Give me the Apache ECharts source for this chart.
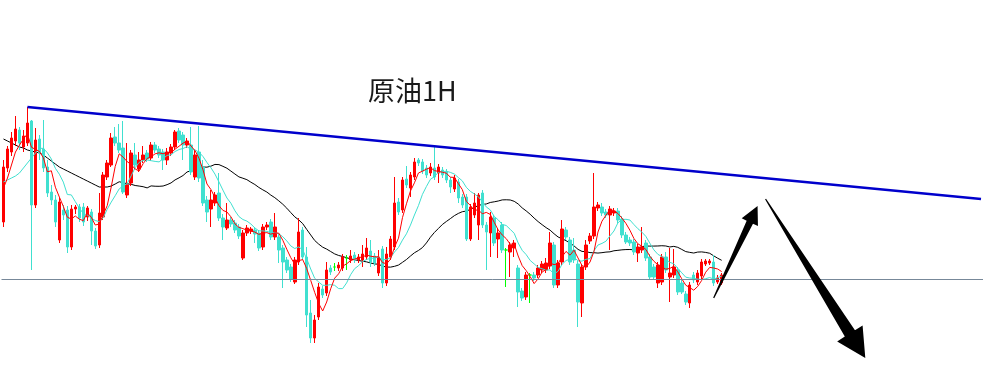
<!DOCTYPE html>
<html>
<head>
<meta charset="utf-8">
<script src="https://cdn.jsdelivr.net/npm/echarts@6/dist/echarts.min.js"></script>
<style>html,body{margin:0;padding:0;background:#fff}#c{width:983px;height:365px}</style>
</head>
<body>
<div id="c"></div>
<script>
// Hourly crude oil candles (price points)
const open = [178,232,248,259,270,253,257,279,195,261, 251,233,208,200,160,190,190,153,191,193, 193,183,188,169,155,183,223,235,263,257, 252,205,217,245,231,240,247,242,255,251, 248,240,247,253,269,265,255,255,223,248, 233,200,191,197,207,182,172,180,177,173, 142,167,169,170,167,153,173,178,163,163, 152,140,133,118,138,170,143,87,62,83, 111,107,132,133,132,132,142,140,145,140, 140,143,149,144,127,151,117,143,153,198, 190,221,212,223,240,238,232,227,232,227, 230,228,220,211,218,203,203,161,185,175, 207,175,167,182,161,175,150,148,152,132, 109,103,125,125,125,130,130,134,155,115, 138,170,160,150,136,97,133,159,164,192, 193,188,185,187,189,181,165,160,158,147, 150,157,143,133,117,118,143,123,125,130, 117,106,97,125,118,124,136,137,138,118, 117];
const close = [233,251,262,271,257,264,277,195,260,247, 232,207,200,178,198,185,153,191,193,182, 178,192,169,154,187,225,237,262,257,250, 208,215,247,235,240,245,241,255,250,245, 240,248,253,268,260,255,259,228,245,222, 197,188,200,205,182,173,180,176,170,164, 167,172,171,166,152,173,175,163,173,150, 138,130,121,140,168,143,85,62,80,113, 105,130,128,133,135,143,142,144,140,143, 146,152,138,137,143,117,146,161,197,188, 220,215,225,238,237,229,225,233,223,233, 225,220,213,222,202,195,161,193,197,205, 175,168,183,157,167,150,150,155,157,108, 102,125,125,122,132,136,137,157,115,137, 171,163,138,140,98,133,155,164,193,195, 187,185,191,189,180,165,158,157,148,153, 153,142,123,123,135,143,130,127,133,108, 108,98,115,120,127,138,139,139,117,122, 125];
const low = [173,228,244,254,250,248,254,130,192,240, 228,203,195,173,157,180,147,150,186,178, 174,179,155,151,152,180,220,233,254,247, 206,202,214,230,228,237,238,239,247,242, 230,235,244,250,257,240,252,225,220,218, 194,178,173,194,179,160,170,173,167,161, 140,164,166,157,149,150,170,160,160,137, 112,127,118,116,135,140,73,57,57,80, 102,104,125,129,129,129,130,137,137,137, 133,140,133,134,124,112,114,140,150,185, 187,212,203,220,234,226,222,224,220,217, 222,217,207,208,197,192,159,159,182,160, 172,130,143,154,142,147,113,123,143,93, 99,100,97,119,122,127,127,131,112,112, 135,160,135,137,73,83,130,156,161,189, 184,182,150,184,177,162,156,154,145,138, 147,139,120,120,112,115,127,98,122,105, 106,95,92,117,115,121,134,135,114,116, 115];
const high = [240,254,268,284,273,270,293,280,272,265, 280,240,215,205,202,195,194,195,195,196, 197,194,191,172,207,228,240,267,273,276, 279,257,250,257,248,254,250,258,258,254, 251,252,256,270,272,268,262,273,250,274, 240,204,210,208,227,186,197,183,180,176, 170,175,173,173,170,176,178,181,187,166, 155,143,136,143,182,173,153,100,85,117, 114,138,135,137,138,146,145,150,148,146, 155,162,160,147,150,154,153,164,223,202, 223,234,228,242,242,241,235,237,253,236, 233,231,223,225,221,206,206,196,207,207, 210,178,188,185,172,178,152,158,160,135, 112,128,127,128,135,139,142,168,158,140, 180,173,163,162,139,136,160,167,227,198, 197,191,194,192,192,184,168,163,161,156, 173,160,146,136,138,146,148,152,151,133, 120,109,118,128,130,141,141,141,145,125, 127];
// moving-average values visible before enough candles exist
const ma5Lead = [212,222,235,248];
const ma10Lead = [218,220,222,224,227,232,237,242,247];
const ma30Lead = [261,259,257,255,253,252,250,249,248,247,245,242,239,236,233,231,229,227,225,223,221,219,217,215,213,213,213,214,216];
// reference levels
const supportLevel = 121;
const trendStart = [6, 293];
const trendEnd = [245, 201];
// arrow annotations: [tailIndex, tailPrice, tipIndex, tipPrice]
const arrowUp = [177.7, 102, 189.2, 194];
const arrowDown = [191.4, 201, 215.7, 42];
const slotCount = 246;

const categories = Array.from({length: slotCount}, (_, i) => 'H' + (i + 1));
const candles = open.map((o, i) => [o, close[i], low[i], high[i]]);
function ma(period, lead) {
  return close.map((c, i) => {
    if (i < period - 1) return lead[i];
    let s = 0;
    for (let k = i - period + 1; k <= i; k++) s += close[k];
    return +(s / period).toFixed(2);
  });
}

const chart = echarts.init(document.getElementById('c'), null, {renderer: 'canvas'});
chart.setOption({
  animation: false,
  backgroundColor: '#ffffff',
  title: {
    text: '原油1H', left: 368, top: 77, padding: 0,
    textStyle: {fontSize: 27, fontWeight: 'normal', color: '#1a1a1a', fontFamily: 'Noto Sans CJK SC'}
  },
  grid: {left: 1.5, top: 0, width: slotCount * 4, height: 365, containLabel: false},
  xAxis: {type: 'category', data: categories, boundaryGap: true, show: false},
  yAxis: {type: 'value', min: 35, max: 400, show: false, splitLine: {show: false}},
  series: [
    {
      type: 'line', data: ma(30, ma30Lead), showSymbol: false, symbol: 'none', z: 1,
      lineStyle: {color: '#000000', width: 1}
    },
    {
      type: 'candlestick', data: candles, barWidth: 3, z: 2,
      itemStyle: {
        color: '#ff0000', color0: '#40e0d0',
        borderColor: '#ff0000', borderColor0: '#40e0d0', borderColorDoji: '#00ff00', borderWidth: 1
      },
      markLine: {
        silent: true, symbol: ['none', 'none'], label: {show: false}, animation: false,
        data: [
          {yAxis: supportLevel, lineStyle: {color: '#778899', width: 1, type: 'solid'}},
          [
            {coord: [categories[trendStart[0]], trendStart[1]]},
            {coord: [categories[trendEnd[0]], trendEnd[1]], lineStyle: {color: '#0000cc', width: 2.5, type: 'solid'}}
          ]
        ]
      }
    },
    {
      type: 'line', data: ma(10, ma10Lead), showSymbol: false, symbol: 'none', z: 3,
      lineStyle: {color: '#40e0d0', width: 1}
    },
    {
      type: 'line', data: ma(5, ma5Lead), showSymbol: false, symbol: 'none', z: 4,
      lineStyle: {color: '#ff0000', width: 1}
    }
  ]
});

function arrowShape(a, shaftW, headLen, headW) {
  const t = chart.convertToPixel({gridIndex: 0}, [a[0], a[1]]);
  const p = chart.convertToPixel({gridIndex: 0}, [a[2], a[3]]);
  const dx = p[0] - t[0], dy = p[1] - t[1];
  const L = Math.hypot(dx, dy);
  const ux = dx / L, uy = dy / L, nx = -uy, ny = ux;
  const bx = p[0] - ux * headLen, by = p[1] - uy * headLen;
  return [
    [t[0] + nx * 0.6, t[1] + ny * 0.6],
    [bx + nx * shaftW, by + ny * shaftW],
    [bx + nx * headW, by + ny * headW],
    [p[0], p[1]],
    [bx - nx * headW, by - ny * headW],
    [bx - nx * shaftW, by - ny * shaftW],
    [t[0] - nx * 0.6, t[1] - ny * 0.6]
  ];
}
chart.setOption({
  graphic: [
    {type: 'polygon', z: 100, shape: {points: arrowShape(arrowUp, 3.5, 18, 9)}, style: {fill: '#000'}},
    {type: 'polygon', z: 100, shape: {points: arrowShape(arrowDown, 6, 29, 15)}, style: {fill: '#000'}}
  ]
});
</script>
</body>
</html>
